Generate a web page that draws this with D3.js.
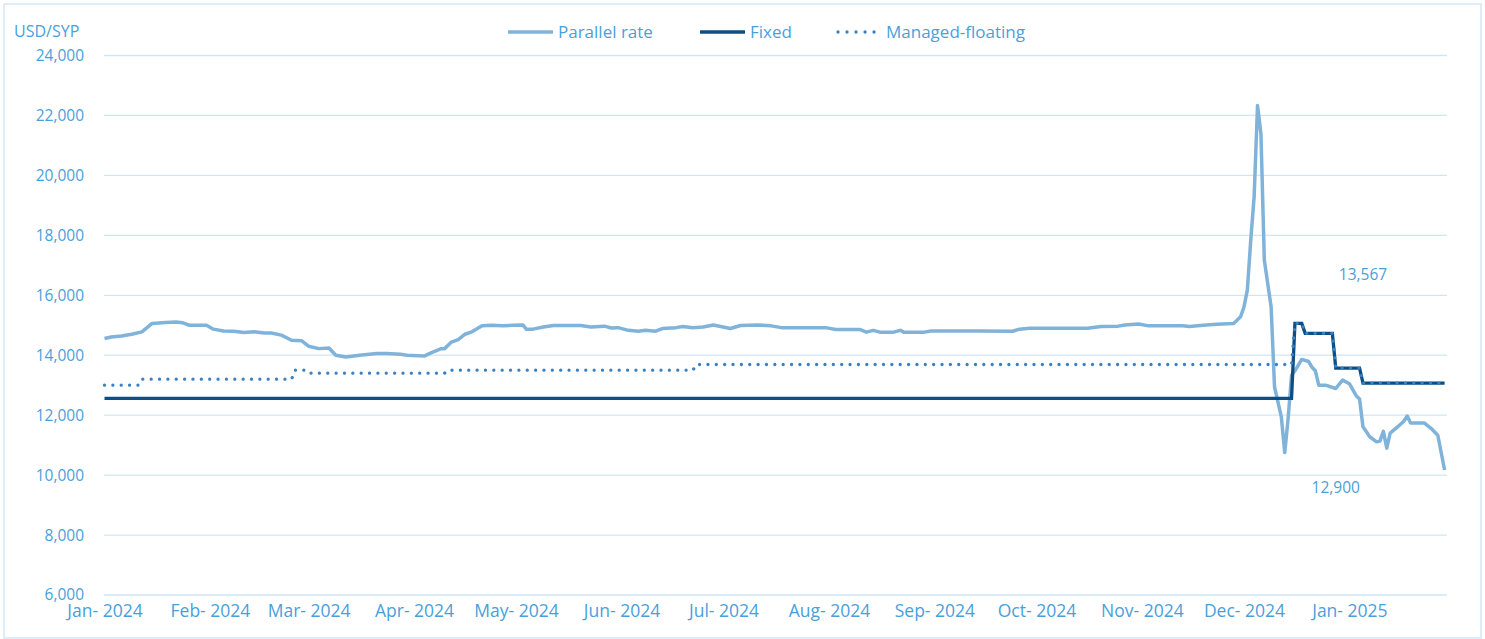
<!DOCTYPE html>
<html>
<head>
<meta charset="utf-8">
<script src="https://cdn.jsdelivr.net/npm/d3@7"></script>
<style>
  body { margin: 0; background: #fff; }
  text { font-family: "Open Sans", sans-serif; }
</style>
</head>
<body>
<div class="chart"></div>
<script>
// ---- data ----
const parallelRate = [
  ["2024-01-01",14560],["2024-01-03",14610],["2024-01-06",14640],["2024-01-09",14700],
  ["2024-01-12",14780],["2024-01-15",15060],["2024-01-19",15090],["2024-01-22",15110],
  ["2024-01-24",15080],["2024-01-26",15000],["2024-01-31",15000],["2024-02-02",14870],
  ["2024-02-05",14810],["2024-02-08",14800],["2024-02-11",14760],["2024-02-14",14780],
  ["2024-02-17",14740],["2024-02-19",14740],["2024-02-22",14670],["2024-02-25",14500],
  ["2024-02-28",14480],["2024-03-01",14300],["2024-03-04",14220],["2024-03-07",14240],
  ["2024-03-09",14000],["2024-03-12",13940],["2024-03-16",14000],["2024-03-21",14060],
  ["2024-03-24",14060],["2024-03-28",14030],["2024-03-30",14000],["2024-04-04",13970],
  ["2024-04-06",14080],["2024-04-09",14220],["2024-04-10",14220],["2024-04-12",14440],
  ["2024-04-14",14520],["2024-04-16",14700],["2024-04-18",14780],["2024-04-21",14980],
  ["2024-04-24",15000],["2024-04-27",14980],["2024-04-30",15000],["2024-05-03",15010],
  ["2024-05-04",14870],["2024-05-06",14870],["2024-05-09",14940],["2024-05-12",14990],
  ["2024-05-20",14990],["2024-05-23",14940],["2024-05-27",14970],["2024-05-29",14910],
  ["2024-05-31",14920],["2024-06-03",14830],["2024-06-06",14800],["2024-06-08",14830],
  ["2024-06-11",14800],["2024-06-13",14890],["2024-06-17",14920],["2024-06-19",14960],
  ["2024-06-22",14920],["2024-06-25",14940],["2024-06-28",15010],["2024-07-03",14890],
  ["2024-07-06",14990],["2024-07-11",15010],["2024-07-15",14980],["2024-07-18",14920],
  ["2024-07-31",14920],["2024-08-03",14860],["2024-08-10",14860],["2024-08-12",14770],
  ["2024-08-14",14830],["2024-08-16",14770],["2024-08-20",14770],["2024-08-22",14830],
  ["2024-08-23",14770],["2024-08-29",14770],["2024-08-31",14810],["2024-09-14",14810],
  ["2024-09-24",14800],["2024-09-26",14870],["2024-09-29",14900],["2024-10-16",14900],
  ["2024-10-20",14960],["2024-10-25",14970],["2024-10-27",15010],["2024-10-31",15040],
  ["2024-11-03",14980],["2024-11-13",14980],["2024-11-15",14960],["2024-11-19",15000],
  ["2024-11-23",15030],["2024-11-28",15060],["2024-11-30",15280],["2024-12-01",15600],
  ["2024-12-02",16170],["2024-12-03",17830],["2024-12-04",19280],["2024-12-05",22330],
  ["2024-12-06",21390],["2024-12-07",17170],["2024-12-09",15610],["2024-12-10",12940],
  ["2024-12-12",11940],["2024-12-13",10750],["2024-12-14",11900],["2024-12-15",13330],
  ["2024-12-16",13480],["2024-12-18",13860],["2024-12-20",13790],["2024-12-21",13600],
  ["2024-12-22",13480],["2024-12-23",13000],["2024-12-25",13000],["2024-12-28",12890],
  ["2024-12-30",13170],["2025-01-01",13050],["2025-01-03",12650],["2025-01-04",12540],
  ["2025-01-05",11610],["2025-01-07",11280],["2025-01-09",11110],["2025-01-10",11140],
  ["2025-01-11",11460],["2025-01-12",10900],["2025-01-13",11400],["2025-01-15",11590],
  ["2025-01-17",11800],["2025-01-18",11970],["2025-01-19",11740],["2025-01-23",11740],
  ["2025-01-25",11560],["2025-01-27",11330],["2025-01-29",10170]
];

const fixedRate = [
  ["2024-01-01",12562],["2024-12-15",12562],["2024-12-16",15060],["2024-12-18",15060],
  ["2024-12-19",14730],["2024-12-27",14730],["2024-12-28",13570],["2025-01-04",13570],
  ["2025-01-05",13070],["2025-01-29",13070]
];

const managedFloating = [
  ["2024-01-01",13000],["2024-01-11",13000],["2024-01-12",13200],["2024-02-25",13200],
  ["2024-02-26",13500],["2024-02-29",13500],["2024-03-01",13400],["2024-04-10",13400],
  ["2024-04-11",13500],["2024-06-22",13500],["2024-06-23",13690],["2024-12-15",13690],
  ["2024-12-16",15060],["2024-12-18",15060],["2024-12-19",14730],["2024-12-27",14730],
  ["2024-12-28",13570],["2025-01-04",13570],["2025-01-05",13070],["2025-01-29",13070]
];

const yTicks = [6000, 8000, 10000, 12000, 14000, 16000, 18000, 20000, 22000, 24000];
const legendLabels = ["Parallel rate", "Fixed", "Managed-floating"];
const notes = [
  {text: "13,567", date: "2025-01-05", value: 16500},
  {text: "12,900", date: "2024-12-28", value: 9400}
];

// ---- setup ----
const svgWidth = 1485;
const svgHeight = 639;
const textColor = "#4a9fdb";
const gridColor = "#cfe5f6";
const colParallel = "#80b3da";
const colFixed = "#0c4f85";
const colManaged = "#3b80c1";

const parse = d3.utcParse("%Y-%m-%d");

const svg = d3.select(".chart")
    .append("svg")
    .attr("width", svgWidth)
    .attr("height", svgHeight);

// frame
svg.append("rect")
    .attr("x", 4).attr("y", 4)
    .attr("width", 1477).attr("height", 634)
    .attr("fill", "none")
    .attr("stroke", "#d4e7f6")
    .attr("stroke-width", 1.5);

const x = d3.scaleUtc()
    .domain([parse("2024-01-01"), parse("2025-01-30")])
    .range([104.5, 1448]);

const y = d3.scaleLinear()
    .domain([6000, 24000])
    .range([595, 55.5]);

// grid
svg.append("g")
    .selectAll("line")
    .data(yTicks)
    .join("line")
    .attr("x1", 104).attr("x2", 1447)
    .attr("y1", d => y(d)).attr("y2", d => y(d))
    .attr("stroke", gridColor)
    .attr("stroke-width", 1.3);

// y axis labels
const yAxis = svg.append("g")
    .attr("transform", "translate(84,0)")
    .call(d3.axisLeft(y).tickValues(yTicks).tickSize(0).tickPadding(0)
        .tickFormat(d3.format(",")));
yAxis.select(".domain").remove();
yAxis.selectAll("text")
    .attr("fill", textColor)
    .attr("font-size", 15.5)
    .style("font-family", "'Open Sans', sans-serif");

// x axis labels
const xAxis = svg.append("g")
    .attr("transform", "translate(0,605)")
    .call(d3.axisBottom(x).ticks(d3.utcMonth.every(1)).tickSize(0).tickPadding(0)
        .tickFormat(d3.utcFormat("%b- %Y")));
xAxis.select(".domain").remove();
xAxis.selectAll("text")
    .attr("fill", textColor)
    .attr("font-size", 17.5)
    .style("font-family", "'Open Sans', sans-serif");

// unit label
svg.append("text")
    .attr("x", 14).attr("y", 37)
    .attr("fill", textColor)
    .attr("font-size", 16)
    .text("USD/SYP");

// lines
const line = d3.line()
    .x(d => x(parse(d[0])))
    .y(d => y(d[1]));

svg.append("path")
    .datum(parallelRate)
    .attr("d", line)
    .attr("fill", "none")
    .attr("stroke", colParallel)
    .attr("stroke-width", 3.5)
    .attr("stroke-linejoin", "round");

svg.append("path")
    .datum(fixedRate)
    .attr("d", line)
    .attr("fill", "none")
    .attr("stroke", colFixed)
    .attr("stroke-width", 3.3);

svg.append("path")
    .datum(managedFloating)
    .attr("d", line)
    .attr("fill", "none")
    .attr("stroke", colManaged)
    .attr("stroke-width", 3.3)
    .attr("stroke-linecap", "round")
    .attr("stroke-dasharray", "0.01 8.35");

// notes
svg.selectAll("text.note")
    .data(notes)
    .join("text")
    .attr("class", "note")
    .attr("x", d => x(parse(d.date)))
    .attr("y", d => y(d.value))
    .attr("text-anchor", "middle")
    .attr("fill", textColor)
    .attr("font-size", 15.5)
    .text(d => d.text);

// legend
const legendX = [508, 700, 836];
const legendStyle = [
    {stroke: colParallel, dash: null, w: 3.5},
    {stroke: colFixed, dash: null, w: 3.3},
    {stroke: colManaged, dash: "0.01 9", w: 3.3}
];
const legend = svg.append("g")
    .selectAll("g")
    .data(legendLabels)
    .join("g")
    .attr("transform", (d, i) => `translate(${legendX[i]},32)`);

legend.append("line")
    .attr("x1", (d, i) => i === 2 ? 2 : 0)
    .attr("x2", 45)
    .attr("stroke", (d, i) => legendStyle[i].stroke)
    .attr("stroke-width", (d, i) => legendStyle[i].w)
    .attr("stroke-linecap", (d, i) => i === 2 ? "round" : "butt")
    .attr("stroke-dasharray", (d, i) => legendStyle[i].dash);

legend.append("text")
    .attr("x", 50)
    .attr("y", 6)
    .attr("fill", textColor)
    .attr("font-size", 17)
    .text(d => d);
</script>
</body>
</html>
